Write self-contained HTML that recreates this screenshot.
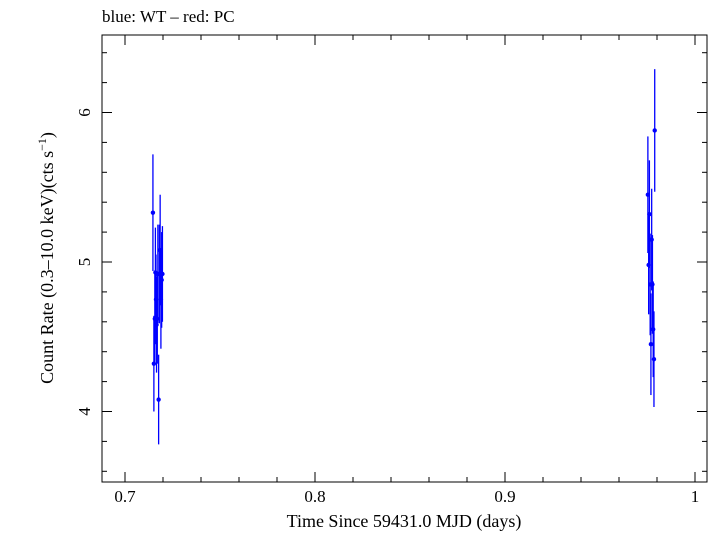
<!DOCTYPE html>
<html><head><meta charset="utf-8"><style>
body{margin:0;background:#fff;width:715px;height:532px;overflow:hidden}
text{font-family:"Liberation Serif",serif;fill:#000}
</style></head><body>
<svg id="chart" width="715" height="532">
<text x="102" y="22" font-size="17" font-family="Liberation Sans">blue: WT – red: PC</text>
<rect x="102" y="35" width="605" height="447" fill="none" stroke="#000"/>
<g id="ticks"></g>
<g id="marks"></g>
<text x="404" y="527" font-size="18" text-anchor="middle">Time Since 59431.0 MJD (days)</text>
<text transform="translate(53,258) rotate(-90)" font-size="18" text-anchor="middle">Count Rate (0.3–10.0 keV)(cts s<tspan dy="-7" font-size="12">−1</tspan><tspan dy="7">)</tspan></text>
</svg>
<script>
const times=[0.7147,0.7152,0.7157,0.7160,0.7163,0.7166,0.7170,0.7173,0.7177,0.7181,0.7185,0.7189,0.7193,0.7197,0.9752,0.9756,0.9760,0.9764,0.9768,0.9772,0.9776,0.9780,0.9784,0.9788];
const rates=[5.33,4.32,4.62,4.93,4.75,4.58,4.62,4.92,4.08,4.92,5.08,4.75,4.88,4.92,5.45,4.98,5.32,4.85,4.45,5.15,4.85,4.55,4.35,5.88];
const errs=[0.39,0.32,0.30,0.30,0.30,0.32,0.30,0.33,0.30,0.33,0.37,0.33,0.32,0.32,0.39,0.33,0.36,0.34,0.34,0.34,0.33,0.32,0.32,0.41];
const xTicks=[0.7,0.8,0.9,1];
const xTickLabels=["0.7","0.8","0.9","1"];
const yTicks=[4,5,6];
const yTickLabels=["4","5","6"];
const NS="http://www.w3.org/2000/svg";
const x=t=>125+(t-0.7)*1900;
const y=v=>262-(v-5)*149.5;
function mk(tag,attrs,parent){const e=document.createElementNS(NS,tag);for(const k in attrs)e.setAttribute(k,attrs[k]);parent.appendChild(e);return e;}
const tg=document.getElementById('ticks');
xTicks.forEach((t,i)=>{
 const a=mk('line',{x1:x(t),x2:x(t),y1:482,y2:472,stroke:'#000'},tg);
 
 
 const b=mk('line',{x1:x(t),x2:x(t),y1:35,y2:45,stroke:'#000'},tg);
 
 
 const l=mk('text',{x:x(t),y:502,'font-size':17,'text-anchor':'middle'},tg);
 l.textContent=xTickLabels[i];
 
 
});
for(let t=0.7;t<1.005;t+=0.02){[[482,477],[35,40]].forEach(p=>{const m=mk('line',{x1:x(t),x2:x(t),y1:p[0],y2:p[1],stroke:'#000'},tg);});}
yTicks.forEach((v,i)=>{
 const a=mk('line',{x1:102,x2:112,y1:y(v),y2:y(v),stroke:'#000'},tg);
 
 
 const b=mk('line',{x1:707,x2:697,y1:y(v),y2:y(v),stroke:'#000'},tg);
 
 
 const l=mk('text',{transform:`translate(90,${y(v)}) rotate(-90)`,'font-size':17,'text-anchor':'middle'},tg);
 l.textContent=yTickLabels[i];
 
 
});
for(let v=3.6;v<6.45;v+=0.2){[[102,107],[707,702]].forEach(p=>{const m=mk('line',{x1:p[0],x2:p[1],y1:y(v),y2:y(v),stroke:'#000'},tg);});}
const mg=document.getElementById('marks');
times.forEach((t,i)=>{
 const e=mk('line',{x1:x(t),x2:x(t),y1:y(rates[i]-errs[i]),y2:y(rates[i]+errs[i]),stroke:'#0000ff','stroke-width':1.3},mg);
 
 
 const c=mk('circle',{cx:x(t),cy:y(rates[i]),r:2.2,fill:'#0000ff'},mg);
 
 
});
</script>
</body></html>
